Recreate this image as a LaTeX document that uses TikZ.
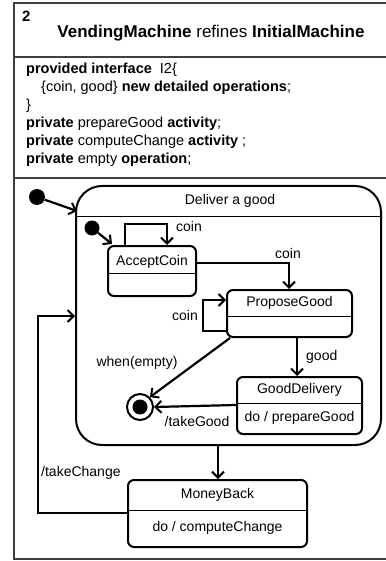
\documentclass[tikz,border=0pt]{standalone}
\usepackage{fontspec}
\setmainfont{Liberation Sans}
\usetikzlibrary{arrows.meta}
\begin{document}
\begin{tikzpicture}[x=1pt,y=-1pt,
  every node/.style={font=\fontsize{14}{16}\selectfont, inner sep=0pt},
  frameline/.style={line width=1.3pt, draw=black!75},
  statebox/.style={draw, line width=2pt, rounded corners=6pt, rectangle},
  sepline/.style={line width=1pt},
  trans/.style={line width=2.2pt, -{Straight Barb[length=6pt,width=12pt,line width=2pt]}},
  code/.style={anchor=base west, font=\fontsize{14.5}{16}\selectfont}]
\useasboundingbox (0,0) rectangle (385,561);
% frame
\draw[frameline] (386,3) -- (14,3) -- (14,559) -- (386,559);
\draw[frameline] (14,57) -- (386,57);
\draw[frameline] (14,178) -- (386,178);
\node[anchor=base west, font=\fontsize{15}{17}\selectfont\bfseries] (num) at (22,22) {2};
\node[anchor=base, font=\fontsize{17}{19}\selectfont] (title) at (211,38) {\textbf{VendingMachine} refines \textbf{InitialMachine}};
\node[code] (l1) at (26,74) {\textbf{provided interface}\ \ I2\{};
\node[code] (l2) at (41,92) {\{coin, good\} \textbf{new detailed operations};};
\node[code] (l3) at (26,110) {\}};
\node[code] (l4) at (26,128) {\textbf{private} prepareGood \textbf{activity};};
\node[code] (l5) at (26,146) {\textbf{private} computeChange \textbf{activity} ;};
\node[code] (l6) at (26,164) {\textbf{private} empty \textbf{operation};};
% composite state
\node[draw, line width=2pt, rounded corners=26pt, minimum width=305pt, minimum height=259pt] (deliver) at (228.5,315.5) {};
\draw[sepline] (76,216) -- (381,216);
\node (dtitle) at (230,201) {Deliver a good};
% simple states
\node[statebox, minimum width=88pt, minimum height=50pt] (accept) at (152,271) {};
\draw[sepline] (accept.west |- 0,273) -- (accept.east |- 0,273);
\node at (152,262) {AcceptCoin};
\node[statebox, minimum width=125pt, minimum height=47pt] (propose) at (289.5,313.5) {};
\draw[sepline] (propose.west |- 0,316) -- (propose.east |- 0,316);
\node at (289.5,303) {ProposeGood};
\node[statebox, minimum width=125pt, minimum height=57pt] (gooddel) at (299.5,405.5) {};
\draw[sepline] (gooddel.west |- 0,403) -- (gooddel.east |- 0,403);
\node at (299.5,390) {GoodDelivery};
\node at (299.5,418) {do / prepareGood};
\node[statebox, minimum width=179pt, minimum height=67pt] (money) at (217.5,513.5) {};
\draw[sepline] (money.west |- 0,510) -- (money.east |- 0,510);
\node at (217.5,495) {MoneyBack};
\node at (217.5,528) {do / computeChange};
% pseudo states
\node[circle, fill=black, minimum size=16pt] (init1) at (37,197) {};
\node[circle, fill=black, minimum size=15pt] (init2) at (92,228) {};
\node[circle, draw, line width=2pt, minimum size=26pt] (final) at (140,407) {};
\node[circle, fill=black, minimum size=15pt] (finaldot) at (140,407) {};
% coordinates
\coordinate (d1) at (77,211);
\coordinate (a1) at (112,244);
% transitions
\draw[trans] (init1) -- (d1);
\draw[trans] (init2) -- (a1);
\draw[trans] (accept.north -| 125,0) -- (125,224) -- (167,224) -- (accept.north -| 167,0);
\node[anchor=west] (c1) at (176,226) {coin};
\draw[trans] (accept.east |- 0,263) -- (289,263) -- (propose.north -| 289,0);
\node (c2) at (288,253) {coin};
\draw[trans] (propose.west |- 0,331) -- (203,331) -- (203,300) -- (propose.west |- 0,300);
\node (c3) at (185,315) {coin};
\draw[trans] (propose.south west) ++(4,0) coordinate (pw) (pw) -- (final.north east);
\node (we) at (137,363) {when(empty)};
\draw[trans] (propose.south -| 297,0) -- (gooddel.north -| 297,0);
\node[anchor=west] (gd) at (306,357) {good};
\draw[trans] (gooddel.west |- 0,405) -- (final.east);
\node (tg) at (197,421) {/takeGood};
\draw[trans] (deliver.south -| 218,0) -- (money.north -| 218,0);
\draw[trans] (money.west |- 0,513) -- (38,513) -- (38,316) -- (deliver.west |- 0,316);
\node[anchor=west] (tc) at (41,473) {/takeChange};
\end{tikzpicture}
\end{document}
